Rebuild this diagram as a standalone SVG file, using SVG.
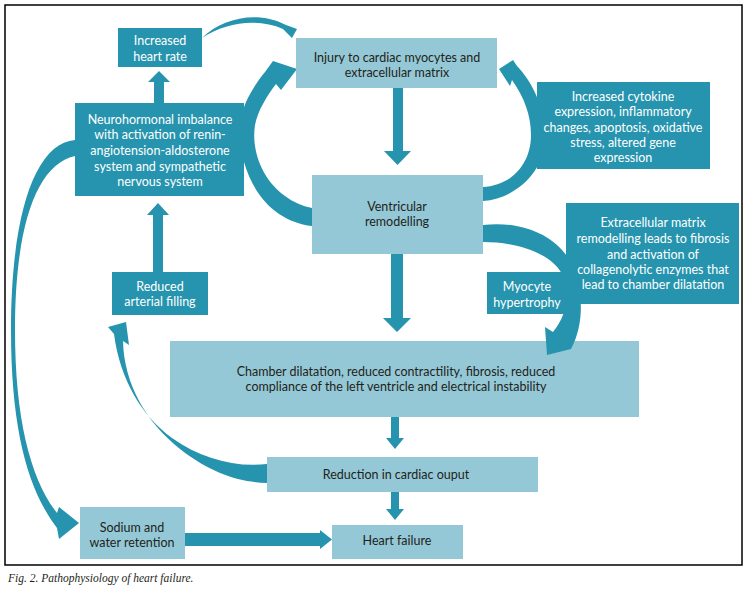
<svg xmlns="http://www.w3.org/2000/svg" width="747" height="591" viewBox="0 0 747 591">
<style>
.dk{fill:#2694ae}
.lt{fill:#94c8d6}
.arr{fill:#2694ae}
text{font-family:Lato,"Noto Sans","Liberation Sans",sans-serif;font-size:12.5px;text-anchor:middle}
.w{fill:#ffffff}
.b{fill:#231f20}
.cap{font-family:"Liberation Serif","Times New Roman",serif;font-style:italic;font-size:11.5px;text-anchor:start;fill:#231f20}
</style>
<rect x="5" y="5" width="737" height="560" fill="#ffffff" stroke="#000000" stroke-width="1.5"/>
<g id="n-chamber">
<rect class="lt" x="170" y="341" width="469" height="76"/>
<text class="b" x="396" y="376">Chamber dilatation, reduced contractility, fibrosis, reduced</text>
<text class="b" x="396" y="391">compliance of the left ventricle and electrical instability</text>
</g>
<g id="connectors">
<path class="arr" d="M202,38 C222,18 258,10 286,25 L297,29 L292,38 L283,29 C258,18 226,22 202,38 Z"/>
<path class="arr" d="M312,226 C280,222 255,200 244,162 C240,148 238,120 246,102 C252,90 258,80 265,72 L273,61 L297,69 L281,90 L276,84 C267,96 258,110 255,125 C251,150 262,180 285,196 C293,202 302,206 312,208 Z"/>
<path class="arr" d="M483,201 C518,198 546,170 545,135 C544,105 532,82 517,66 L513,60 L499,69 L510,86 L512,80 C524,97 531,115 531,135 C531,165 510,186 483,187 Z"/>
<path class="arr" d="M483,225 C525,220 560,238 572,265 C584,292 584,325 571,349 L547,355 L545,327 L553,332 C565,318 570,298 564,278 C555,255 520,242 483,242 Z"/>
<path class="arr" d="M267,464 C235,468 200,458 172,438 C142,416 120,380 114,334 L108,327 L126,322 L129,345 L123,341 C124,384 146,422 180,449 C212,474 240,482 267,483 Z"/>
<path class="arr" d="M75,140 C35,143 11,215 11,330 C11,430 28,490 57,528 L59,539 L79,523 L59,507 L57,513 C31,480 15,420 15,330 C15,230 35,165 75,156 Z"/>
<polygon class="arr" points="393,88 403,88 403,151 411,151 397.5,165 384,151 393,151"/>
<polygon class="arr" points="391,254 403,254 403,318 411,318 397,332 383,318 391,318"/>
<polygon class="arr" points="391,417 399,417 399,438 404,438 395,449 386,438 391,438"/>
<polygon class="arr" points="391,492 399,492 399,509 404,509 395,520 386,509 391,509"/>
<polygon class="arr" points="154,103 164,103 164,82 170,82 159,71 148,82 154,82"/>
<polygon class="arr" points="153,272 163,272 163,215 169,215 158,203 147,215 153,215"/>
<polygon class="arr" points="185,533 320,533 320,530 332,539.5 320,549 320,546 185,546"/>
</g>
<g id="n-heart-rate">
<rect class="dk" x="118" y="28" width="84" height="39"/>
<text class="w" x="160" y="45">Increased</text>
<text class="w" x="160" y="61">heart rate</text>
</g>
<g id="n-injury">
<rect class="lt" x="296" y="38" width="201" height="50"/>
<text class="b" x="397" y="62">Injury to cardiac myocytes and</text>
<text class="b" x="397" y="77">extracellular matrix</text>
</g>
<g id="n-neuro">
<rect class="dk" x="75" y="103" width="169" height="93"/>
<text class="w" x="160" y="123.5">Neurohormonal imbalance</text>
<text class="w" x="160" y="139">with activation of renin-</text>
<text class="w" x="160" y="155">angiotension-aldosterone</text>
<text class="w" x="160" y="170.5">system and sympathetic</text>
<text class="w" x="160" y="186">nervous system</text>
</g>
<g id="n-cytokine">
<rect class="dk" x="537" y="82" width="173" height="87"/>
<text class="w" x="623" y="101">Increased cytokine</text>
<text class="w" x="623" y="116">expression, inflammatory</text>
<text class="w" x="623" y="132">changes, apoptosis, oxidative</text>
<text class="w" x="623" y="147">stress, altered gene</text>
<text class="w" x="623" y="162">expression</text>
</g>
<g id="n-ventricular">
<rect class="lt" x="312" y="175" width="171" height="79"/>
<text class="b" x="397" y="211">Ventricular</text>
<text class="b" x="397" y="226">remodelling</text>
</g>
<g id="n-ecm">
<rect class="dk" x="566" y="203" width="173" height="101"/>
<text class="w" x="653" y="227">Extracellular matrix</text>
<text class="w" x="653" y="243">remodelling leads to fibrosis</text>
<text class="w" x="653" y="259">and activation of</text>
<text class="w" x="653" y="274">collagenolytic enzymes that</text>
<text class="w" x="653" y="289">lead to chamber dilatation</text>
</g>
<g id="n-myocyte">
<rect class="dk" x="487" y="272" width="80" height="42"/>
<text class="w" x="527" y="291">Myocyte</text>
<text class="w" x="527" y="307">hypertrophy</text>
</g>
<g id="n-filling">
<rect class="dk" x="112" y="272" width="96" height="43"/>
<text class="w" x="160" y="291">Reduced</text>
<text class="w" x="160" y="306">arterial filling</text>
</g>
<g id="n-reduction">
<rect class="lt" x="267" y="457" width="271" height="35"/>
<text class="b" x="396" y="479">Reduction in cardiac ouput</text>
</g>
<g id="n-sodium">
<rect class="lt" x="80" y="507" width="105" height="52"/>
<text class="b" x="132" y="532">Sodium and</text>
<text class="b" x="132" y="547">water retention</text>
</g>
<g id="n-heart-failure">
<rect class="lt" x="332" y="525" width="131" height="34"/>
<text class="b" x="397" y="545">Heart failure</text>
</g>
<text class="cap" x="8" y="582">Fig. 2. Pathophysiology of heart failure.</text>
</svg>
